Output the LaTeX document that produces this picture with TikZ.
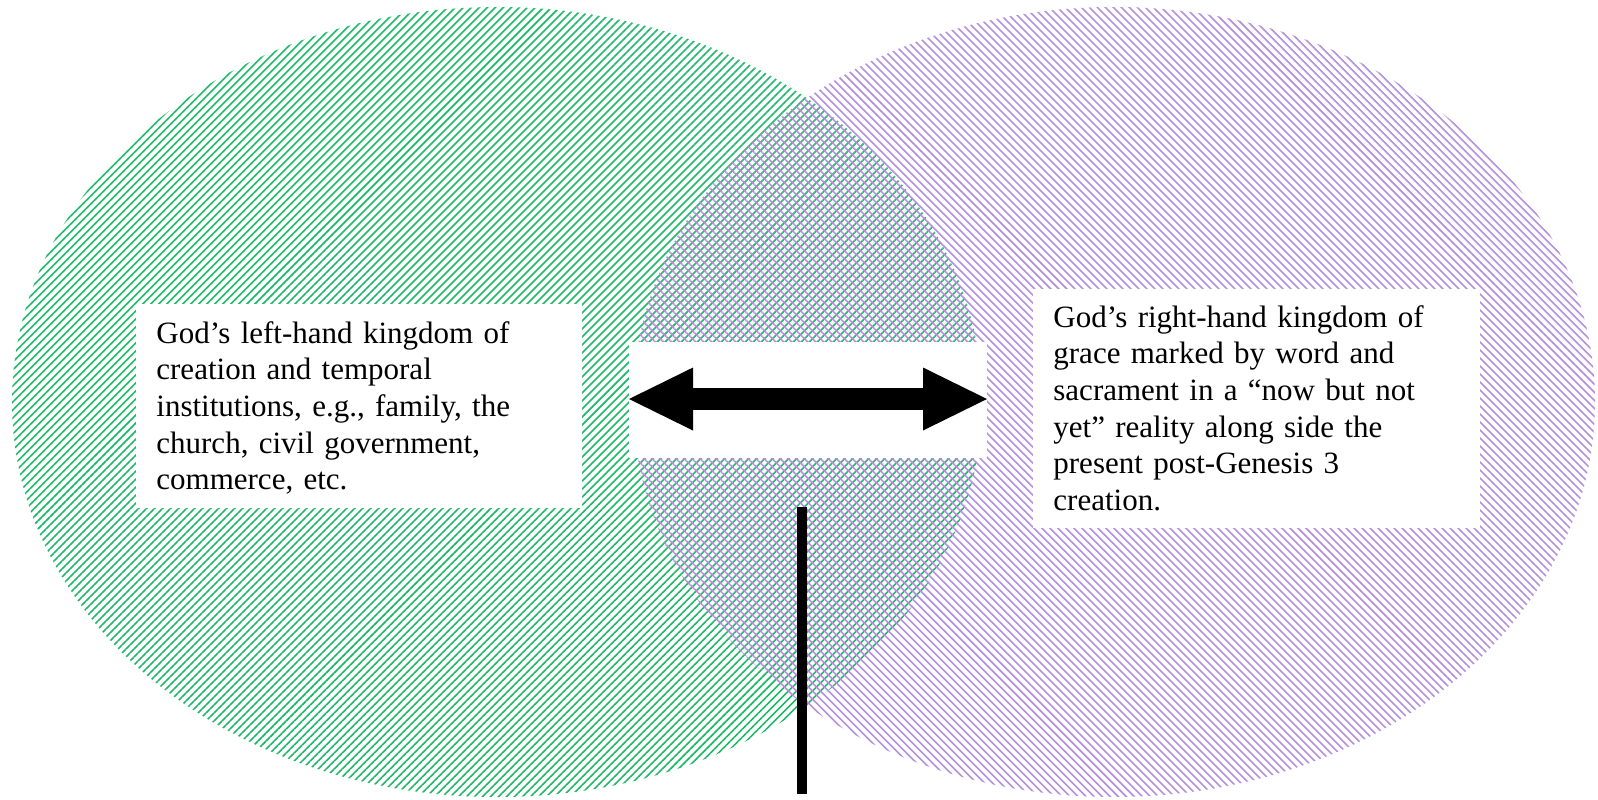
\documentclass[tikz,border=0pt]{standalone}
\usepackage{fontspec}
\setmainfont{Liberation Serif}
\usetikzlibrary{patterns.meta,arrows.meta}
\definecolor{vgreen}{RGB}{30,185,105}
\definecolor{vpurple}{RGB}{180,145,218}
\tikzset{
  greenhatch/.style={pattern={Lines[angle=45,distance=2.83pt,line width=0.8pt]},pattern color=vgreen},
  purplehatch/.style={pattern={Lines[angle=-45,distance=2.83pt,line width=0.8pt]},pattern color=vpurple},
  whitebox/.style={draw=none,fill=white,inner sep=0pt,outer sep=0pt},
  txt/.style={font=\fontsize{15.5pt}{18.35pt}\selectfont,align=left,text width=225pt,inner sep=0pt,anchor=base west},
  dblarrow/.style={line width=11pt,{Triangle[length=32pt,width=31.5pt,line width=0pt]}-{Triangle[length=32pt,width=31.5pt,line width=0pt]}},
  stem/.style={line width=5pt,line cap=butt}
}
\begin{document}
\begin{tikzpicture}[x=0.5pt,y=-0.5pt]
\useasboundingbox (0,0) rectangle (1598,799);
% ellipses
\fill[greenhatch] (497,402) ellipse [x radius=242.5pt, y radius=197.5pt];
\fill[purplehatch] (1114,402) ellipse [x radius=240.5pt, y radius=197.5pt];
% white boxes
\node[whitebox,minimum width=223pt,minimum height=102pt] (lbox) at (359,406) {};
\node[whitebox,minimum width=223.5pt,minimum height=119.5pt] (rbox) at (1256.5,408.5) {};
\node[whitebox,minimum width=179pt,minimum height=58pt] (abox) at (808,400) {};
% texts
\node[txt] (ltext) at (156,343) {God’s left-hand kingdom of\\creation and temporal\\institutions, e.g., family, the\\church, civil government,\\commerce, etc.};
\node[txt] (rtext) at (1053,327) {God’s right-hand kingdom of\\grace marked by word and\\sacrament in a “now but not\\yet” reality along side the\\present post-Genesis 3\\creation.};
% arrow
\coordinate (aL) at (629,399);
\coordinate (aR) at (987,399);
\draw[dblarrow] (aL) -- (aR);
% stem
\coordinate (vtop) at (802,507);
\coordinate (vbot) at (802,794);
\draw[stem] (vtop) -- (vbot);
\end{tikzpicture}
\end{document}
